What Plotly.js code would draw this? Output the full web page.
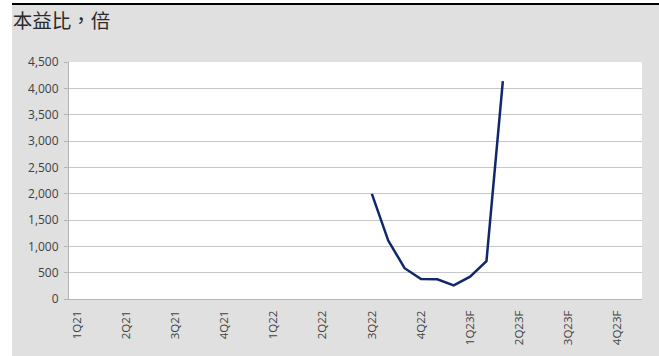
<!DOCTYPE html>
<html>
<head>
<meta charset="utf-8">
<script src="https://cdn.plot.ly/plotly-3.0.1.min.js"></script>
<style>
html,body{margin:0;padding:0;background:#ffffff;}
#wrap{position:absolute;left:12px;top:3px;width:647px;height:351px;border-top:2px solid #000;background:#e0e0e0;}
#chart{width:647px;height:351px;}
</style>
</head>
<body>
<div id="wrap"><div id="chart"></div></div>
<script>
// Monthly categories Jan 2021 .. Nov 2023
const months = ["2021-01","2021-02","2021-03","2021-04","2021-05","2021-06","2021-07","2021-08","2021-09","2021-10","2021-11","2021-12",
"2022-01","2022-02","2022-03","2022-04","2022-05","2022-06","2022-07","2022-08","2022-09","2022-10","2022-11","2022-12",
"2023-01","2023-02","2023-03","2023-04","2023-05","2023-06","2023-07","2023-08","2023-09","2023-10","2023-11"];
const peMonths = ["2022-07","2022-08","2022-09","2022-10","2022-11","2022-12","2023-01","2023-02","2023-03"];
const peValues = [1995, 1110, 585, 380, 375, 260, 425, 720, 4135];
const tickMonths = ["2021-01","2021-04","2021-07","2021-10","2022-01","2022-04","2022-07","2022-10","2023-01","2023-04","2023-07","2023-10"];
const tickLabels = ["1Q21","2Q21","3Q21","4Q21","1Q22","2Q22","3Q22","4Q22","1Q23F","2Q23F","3Q23F","4Q23F"];

const trace = {
  x: peMonths, y: peValues, type: "scatter", mode: "lines",
  line: {color: "#10276b", width: 2.5},
  hoverinfo: "skip"
};
const layout = {
  width: 647, height: 351,
  paper_bgcolor: "#e0e0e0", plot_bgcolor: "#ffffff",
  margin: {l: 57, r: 17, t: 57, b: 57},
  font: {family: "Open Sans, Noto Sans, sans-serif", size: 12, color: "#404040"},
  showlegend: false,
  title: {text: "本益比，倍", x: 0.001, xref: "container", xanchor: "left", y: 0.955, yref: "container", yanchor: "middle",
    font: {family: "Noto Sans CJK TC, Noto Sans CJK SC, sans-serif", size: 19.5, color: "#2a2a2a"}},
  xaxis: {
    type: "category", categoryorder: "array", categoryarray: months,
    range: [-0.5, months.length - 0.5],
    tickmode: "array", tickvals: tickMonths, ticktext: tickLabels,
    tickangle: -90, ticks: "", ticklabelstandoff: 6, showgrid: false, zeroline: false,
    showline: true, linecolor: "#b4b4b4", linewidth: 1,
    tickfont: {size: 11.5, color: "#404040"}, fixedrange: true
  },
  yaxis: {
    range: [0, 4500], dtick: 500, tickformat: ",d",
    showgrid: true, gridcolor: "#c8c8c8", gridwidth: 1,
    zeroline: false, showline: true, linecolor: "#b4b4b4", linewidth: 1,
    ticks: "outside", ticklen: 4, tickcolor: "#b4b4b4", ticklabelstandoff: 3,
    tickfont: {size: 12, color: "#404040"}, fixedrange: true
  }
};
Plotly.newPlot("chart", [trace], layout, {displayModeBar: false, staticPlot: true});
</script>
</body>
</html>
